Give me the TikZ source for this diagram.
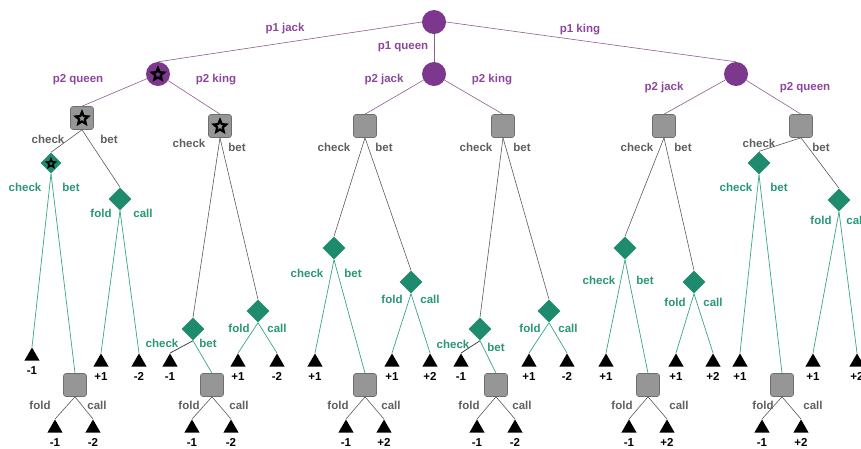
\documentclass[tikz,border=0pt]{standalone}
\usepackage{fontspec}
\setmainfont{Liberation Sans}
\usetikzlibrary{shapes.geometric}
\definecolor{purN}{RGB}{125,55,140}
\definecolor{purT}{RGB}{140,70,155}
\definecolor{purE}{RGB}{140,95,140}
\definecolor{grN}{RGB}{150,150,150}
\definecolor{grD}{RGB}{110,110,110}
\definecolor{grT}{RGB}{95,95,95}
\definecolor{grE}{RGB}{90,90,90}
\definecolor{tlN}{RGB}{30,138,110}
\definecolor{tlT}{RGB}{40,150,120}
\definecolor{tlE}{RGB}{55,165,135}
\tikzset{
 chance/.style={circle, fill=purN, minimum size=24pt, inner sep=0pt},
 pone/.style={rectangle, rounded corners=2.5pt, fill=grN, draw=grD, line width=0.6pt, minimum size=23pt, inner sep=0pt},
 ptwo/.style={diamond, fill=tlN, minimum width=23pt, minimum height=23pt, inner sep=0pt},
 term/.style={regular polygon, regular polygon sides=3, fill=black, minimum size=17.5pt, inner sep=0pt},
 starmark/.style={star, star points=5, star point ratio=2.2, draw=black, line join=miter, line width=2.2pt, minimum size=13pt, inner sep=0pt},
 lab/.style={font=\fontsize{11.5}{13}\selectfont\bfseries, inner sep=0pt},
 labP/.style={lab, text=purT},
 labG/.style={lab, text=grT},
 labT/.style={lab, text=tlT},
 val/.style={lab, text=black},
 eP/.style={draw=purE, line width=0.6pt},
 eG/.style={draw=grE, line width=0.6pt},
 eT/.style={draw=tlE, line width=0.7pt},
 eD/.style={draw=black!80, line width=0.7pt},
}
\newcommand\leafnode[4]{\node[term] (#1) at (#2,#3+2.2) {}; \node[val] (#1v) at (#2,#3+16.5) {#4};}
\begin{document}
\begin{tikzpicture}[x=1pt,y=-1pt]
\useasboundingbox (0,0) rectangle (861,448);
% chance nodes
\node[chance] (r) at (434,22) {};
\node[chance] (cL) at (158,74) {};
\node[chance] (cM) at (434,74) {};
\node[chance] (cR) at (736,74) {};
\node[starmark, minimum size=12.5pt] (sL) at (158,74.5) {};
% player 1 squares
\node[pone] (A) at (82,118) {};
\node[pone] (B) at (220,126) {};
\node[pone] (C) at (365,126) {};
\node[pone] (D) at (503,126) {};
\node[pone] (E) at (664,126) {};
\node[pone] (F) at (801,126) {};
\node[starmark] (sA) at (82,118.5) {};
\node[starmark] (sB) at (220,126.5) {};
% player 2 diamonds
\node[ptwo, minimum width=21pt, minimum height=21pt] (dA1) at (51,163) {};
\node[starmark, minimum size=9pt, line width=1.6pt] (sA1) at (51,163.5) {};
\node[ptwo] (dA2) at (120,199) {};
\node[ptwo] (dB1) at (193,329) {};
\node[ptwo] (dB2) at (258,311) {};
\node[ptwo] (dC1) at (334,248) {};
\node[ptwo] (dC2) at (411,282) {};
\node[ptwo] (dD1) at (480,329) {};
\node[ptwo] (dD2) at (549,311) {};
\node[ptwo] (dE1) at (625,248) {};
\node[ptwo] (dE2) at (694,282) {};
\node[ptwo] (dF1) at (759,163) {};
\node[ptwo] (dF2) at (839,200) {};
% second player 1 squares
\node[pone] (qA) at (75,385) {};
\node[pone] (qB) at (212,385) {};
\node[pone] (qC) at (365,385) {};
\node[pone] (qD) at (496,385) {};
\node[pone] (qE) at (648,385) {};
\node[pone] (qF) at (782,385) {};
% leaves
\leafnode{lA1}{32}{354}{-1}
\leafnode{lA2}{101}{360}{+1}
\leafnode{lA3}{139}{360}{-2}
\leafnode{lA4}{55}{426}{-1}
\leafnode{lA5}{93}{426}{-2}
\leafnode{lB1}{170}{360}{-1}
\leafnode{lB2}{238}{360}{+1}
\leafnode{lB3}{277}{360}{-2}
\leafnode{lB4}{192}{426}{-1}
\leafnode{lB5}{231}{426}{-2}
\leafnode{lC1}{315}{360}{+1}
\leafnode{lC2}{392}{360}{+1}
\leafnode{lC3}{430}{360}{+2}
\leafnode{lC4}{346}{426}{-1}
\leafnode{lC5}{384}{426}{+2}
\leafnode{lD1}{461}{360}{-1}
\leafnode{lD2}{529}{360}{+1}
\leafnode{lD3}{567}{360}{-2}
\leafnode{lD4}{477}{426}{-1}
\leafnode{lD5}{515}{426}{-2}
\leafnode{lE1}{606}{360}{+1}
\leafnode{lE2}{676}{360}{+1}
\leafnode{lE3}{713}{360}{+2}
\leafnode{lE4}{629}{426}{-1}
\leafnode{lE5}{667}{426}{+2}
\leafnode{lF1}{740}{360}{+1}
\leafnode{lF2}{813}{360}{+1}
\leafnode{lF3}{857}{360}{+2}
\leafnode{lF4}{762}{426}{-1}
\leafnode{lF5}{801}{426}{+2}
% edges: chance
\draw[eP] (r.west) -- (cL.north);
\draw[eP] (r.south) -- (cM.north);
\draw[eP] (r.east) -- (cR.north);
\draw[eP] (cL) -- (A.north);
\draw[eP] (cL) -- (B.north);
\draw[eP] (cM) -- (C.north);
\draw[eP] (cM) -- (D.north);
\draw[eP] (cR) -- (E.north);
\draw[eP] (cR) -- (F.north);
% edges: player 1
\foreach \s/\a/\b in {A/dA1/dA2,B/dB1/dB2,C/dC1/dC2,D/dD1/dD2,E/dE1/dE2,F/dF1/dF2}{
  \draw[eG] (\s.south) -- (\a.north);
  \draw[eG] (\s.south) -- (\b.north);
}
% edges: player 2
\draw[eT] (dA1.south) -- (lA1.north);
\draw[eT] (dA1.south) -- (qA.north);
\draw[eT] (dA2.south) -- (lA2.north);
\draw[eT] (dA2.south) -- (lA3.north);
\draw[eD] (dB1.south) -- (lB1.north);
\draw[eT] (dB1.south) -- (qB.north);
\draw[eT] (dB2.south) -- (lB2.north);
\draw[eT] (dB2.south) -- (lB3.north);
\draw[eT] (dC1.south) -- (lC1.north);
\draw[eT] (dC1.south) -- (qC.north);
\draw[eT] (dC2.south) -- (lC2.north);
\draw[eT] (dC2.south) -- (lC3.north);
\draw[eD] (dD1.south) -- (lD1.north);
\draw[eT] (dD1.south) -- (qD.north);
\draw[eT] (dD2.south) -- (lD2.north);
\draw[eT] (dD2.south) -- (lD3.north);
\draw[eT] (dE1.south) -- (lE1.north);
\draw[eT] (dE1.south) -- (qE.north);
\draw[eT] (dE2.south) -- (lE2.north);
\draw[eT] (dE2.south) -- (lE3.north);
\draw[eT] (dF1.south) -- (lF1.north);
\draw[eT] (dF1.south) -- (qF.north);
\draw[eT] (dF2.south) -- (lF2.north);
\draw[eT] (dF2.south) -- (lF3.north);
% edges: second player 1
\foreach \s/\a/\b in {qA/lA4/lA5,qB/lB4/lB5,qC/lC4/lC5,qD/lD4/lD5,qE/lE4/lE5,qF/lF4/lF5}{
  \draw[eG] (\s.south) -- (\a.north);
  \draw[eG] (\s.south) -- (\b.north);
}
% labels: chance
\node[labP] (t1) at (285,29) {p1 jack};
\node[labP] (t2) at (403,47) {p1 queen};
\node[labP] (t3) at (580,30) {p1 king};
\node[labP] (t4) at (78,80) {p2 queen};
\node[labP] (t5) at (216,80) {p2 king};
\node[labP] (t6) at (384,80) {p2 jack};
\node[labP] (t7) at (492,80) {p2 king};
\node[labP] (t8) at (664,88) {p2 jack};
\node[labP] (t9) at (805,88) {p2 queen};
% labels: player 1 first move
\node[labG] (gA1) at (48,139) {check};
\node[labG] (gA2) at (109,139) {bet};
\node[labG] (gB1) at (189,143) {check};
\node[labG] (gB2) at (237,147) {bet};
\node[labG] (gC1) at (334,147) {check};
\node[labG] (gC2) at (384,147) {bet};
\node[labG] (gD1) at (476,147) {check};
\node[labG] (gD2) at (522,147) {bet};
\node[labG] (gE1) at (637,147) {check};
\node[labG] (gE2) at (683,147) {bet};
\node[labG] (gF1) at (759,143) {check};
\node[labG] (gF2) at (821,147) {bet};
% labels: player 2
\node[labT] (hA1) at (25,187) {check};
\node[labT] (hA2) at (71,187) {bet};
\node[labT] (hA3) at (101,213) {fold};
\node[labT] (hA4) at (143,213) {call};
\node[labT] (hB1) at (162,343) {check};
\node[labT] (hB2) at (208,343) {bet};
\node[labT] (hB3) at (239,328) {fold};
\node[labT] (hB4) at (277,328) {call};
\node[labT] (hC1) at (307,273) {check};
\node[labT] (hC2) at (353,273) {bet};
\node[labT] (hC3) at (392,299) {fold};
\node[labT] (hC4) at (430,299) {call};
\node[labT] (hD1) at (453,344) {check};
\node[labT] (hD2) at (496,347) {bet};
\node[labT] (hD3) at (530,328) {fold};
\node[labT] (hD4) at (568,328) {call};
\node[labT] (hE1) at (599,280) {check};
\node[labT] (hE2) at (645,280) {bet};
\node[labT] (hE3) at (675,302) {fold};
\node[labT] (hE4) at (713,302) {call};
\node[labT] (hF1) at (736,187) {check};
\node[labT] (hF2) at (779,187) {bet};
\node[labT] (hF3) at (821,220) {fold};
\node[labT] (hF4) at (856,220) {call};
% labels: player 1 second move
\node[labG] (kA1) at (40,405) {fold};
\node[labG] (kA2) at (97,405) {call};
\node[labG] (kB1) at (189,405) {fold};
\node[labG] (kB2) at (239,405) {call};
\node[labG] (kC1) at (338,405) {fold};
\node[labG] (kC2) at (391,405) {call};
\node[labG] (kD1) at (469,405) {fold};
\node[labG] (kD2) at (522,405) {call};
\node[labG] (kE1) at (622,405) {fold};
\node[labG] (kE2) at (679,405) {call};
\node[labG] (kF1) at (763,405) {fold};
\node[labG] (kF2) at (813,405) {call};
\end{tikzpicture}
\end{document}
